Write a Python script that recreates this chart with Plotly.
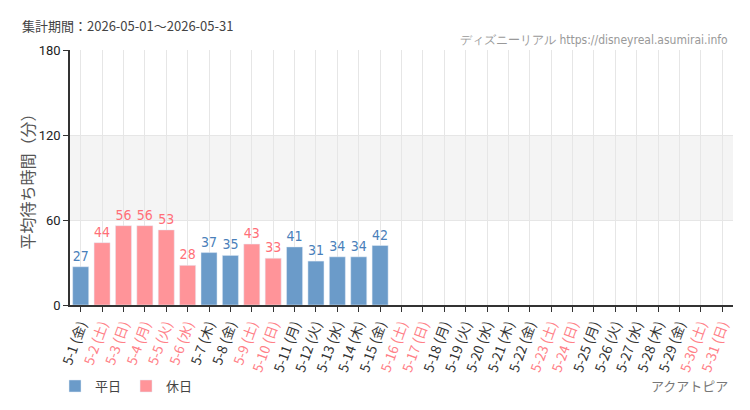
import plotly.graph_objects as go

# ── Data ──
days = [f"5-{d}" for d in range(1, 32)]
weekdays = ["金", "土", "日", "月", "火", "水", "木"] * 5
weekdays = weekdays[:31]
holiday = [False, True, True, True, True, True, False, False, True, True,
           False, False, False, False, False, True, True, False, False, False,
           False, False, True, True, False, False, False, False, False, True, True]
wait_min = [27, 44, 56, 56, 53, 28, 37, 35, 43, 33,
            41, 31, 34, 34, 42] + [None] * 16

BLUE = "#6b9bc9"
PINK = "#ff9499"
BLUE_TXT = "#4a80ba"
PINK_TXT = "#ff6f78"
NARROW = "DejaVu Sans Condensed, Liberation Sans Narrow, Roboto"

y_week = [v if not h else None for v, h in zip(wait_min, holiday)]
y_hol = [v if h else None for v, h in zip(wait_min, holiday)]

ticktext = [
    f"<span style='color:{'#ff8087' if h else '#333333'}'>{d} ({w})</span>"
    for d, w, h in zip(days, weekdays, holiday)
]

fig = go.Figure()
fig.add_trace(go.Bar(
    x=days, y=y_week, name="平日", marker_color=BLUE,
    text=[str(v) if v is not None else "" for v in y_week],
    textposition="outside", cliponaxis=False,
    textfont=dict(color=BLUE_TXT, size=14, family=NARROW),
))
fig.add_trace(go.Bar(
    x=days, y=y_hol, name="休日", marker_color=PINK,
    text=[str(v) if v is not None else "" for v in y_hol],
    textposition="outside", cliponaxis=False,
    textfont=dict(color=PINK_TXT, size=14, family=NARROW),
))

# band 60-120
fig.add_shape(type="rect", xref="paper", yref="y", x0=0, x1=1, y0=60, y1=120,
              fillcolor="#f4f4f4", line_width=0, layer="below")

# page has an 8px body margin, so margins are offset by that
fig.update_layout(
    width=750, height=410,
    barmode="overlay",
    bargap=0.25,
    plot_bgcolor="white", paper_bgcolor="white",
    margin=dict(l=62, r=25, t=42, b=113, autoexpand=False),
    font=dict(family="Noto Sans CJK JP", color="#333"),
    showlegend=True,
    legend=dict(orientation="h", x=-0.0226, xanchor="left", y=-0.259, yanchor="top",
                font=dict(size=13, color="#444"), itemwidth=30, traceorder="normal"),
    xaxis=dict(
        categoryorder="array", categoryarray=days, automargin=False,
        tickvals=days, ticktext=ticktext, tickangle=-70,
        tickfont=dict(size=13.5, family="Noto Sans CJK JP"),
        showline=True, linecolor="#333", linewidth=1.5,
        ticks="outside", ticklen=5, tickcolor="#333",
        showgrid=True, gridcolor="#e6e6e6", gridwidth=1,
    ),
    yaxis=dict(
        range=[0, 180], tickvals=[0, 60, 120, 180], automargin=False,
        tickfont=dict(size=13, color="#222", family="Roboto"),
        showline=True, linecolor="#333", linewidth=1.5,
        ticks="outside", ticklen=5, tickcolor="#333",
        showgrid=True, gridcolor="#e6e6e6", zeroline=False,
        title=dict(text="平均待ち時間（分）", font=dict(size=16, color="#555"), standoff=0),
    ),
    annotations=[
        dict(text="集計期間：2026-05-01～2026-05-31", xref="paper", yref="paper",
             x=-0.0754, y=1.05, xanchor="left", yanchor="bottom", showarrow=False,
             font=dict(size=13, color="#444")),
        dict(text="ディズニーリアル https://disneyreal.asumirai.info", xref="paper", yref="paper",
             x=0.995, y=1.004, xanchor="right", yanchor="bottom", showarrow=False,
             font=dict(size=12, color="#999", family=NARROW)),
        dict(text="アクアトピア", xref="paper", yref="paper",
             x=0.995, y=-0.314, xanchor="right", yanchor="middle", showarrow=False,
             font=dict(size=13, color="#777")),
    ],
)

fig.write_html("out.html")
